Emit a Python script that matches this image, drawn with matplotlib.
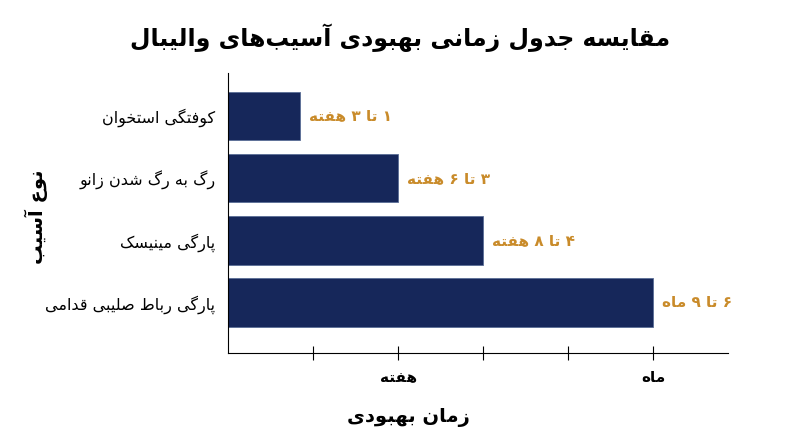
import matplotlib
matplotlib.use("Agg")
import matplotlib.pyplot as plt

# --- datos ---
injuries = ["کوفتگی استخوان", "رگ به رگ شدن زانو", "پارگی مینیسک", "پارگی رباط صلیبی قدامی"]
recovery = [0.85, 2.0, 3.0, 5.0]
ranges = ["۱ تا ۳ هفته", "۳ تا ۶ هفته", "۴ تا ۸ هفته", "۶ تا ۹ ماه"]
tick_pos = [1, 2, 3, 4, 5]
tick_labels = ["", "هفته", "", "", "ماه"]
title = "مقایسه جدول زمانی بهبودی آسیب\u200cهای والیبال"
xlabel = "زمان بهبودی"
ylabel = "نوع آسیب"

# formas de presentacion: aislada, final, inicial, media
FORMS = {
    '\u0627': ('\uFE8D', '\uFE8E', None, None),
    '\u0622': ('\uFE81', '\uFE82', None, None),
    '\u0628': ('\uFE8F', '\uFE90', '\uFE91', '\uFE92'),
    '\u067E': ('\uFB56', '\uFB57', '\uFB58', '\uFB59'),
    '\u062A': ('\uFE95', '\uFE96', '\uFE97', '\uFE98'),
    '\u062B': ('\uFE99', '\uFE9A', '\uFE9B', '\uFE9C'),
    '\u062C': ('\uFE9D', '\uFE9E', '\uFE9F', '\uFEA0'),
    '\u0686': ('\uFB7A', '\uFB7B', '\uFB7C', '\uFB7D'),
    '\u062D': ('\uFEA1', '\uFEA2', '\uFEA3', '\uFEA4'),
    '\u062E': ('\uFEA5', '\uFEA6', '\uFEA7', '\uFEA8'),
    '\u062F': ('\uFEA9', '\uFEAA', None, None),
    '\u0630': ('\uFEAB', '\uFEAC', None, None),
    '\u0631': ('\uFEAD', '\uFEAE', None, None),
    '\u0632': ('\uFEAF', '\uFEB0', None, None),
    '\u0698': ('\uFB8A', '\uFB8B', None, None),
    '\u0633': ('\uFEB1', '\uFEB2', '\uFEB3', '\uFEB4'),
    '\u0634': ('\uFEB5', '\uFEB6', '\uFEB7', '\uFEB8'),
    '\u0635': ('\uFEB9', '\uFEBA', '\uFEBB', '\uFEBC'),
    '\u0636': ('\uFEBD', '\uFEBE', '\uFEBF', '\uFEC0'),
    '\u0637': ('\uFEC1', '\uFEC2', '\uFEC3', '\uFEC4'),
    '\u0638': ('\uFEC5', '\uFEC6', '\uFEC7', '\uFEC8'),
    '\u0639': ('\uFEC9', '\uFECA', '\uFECB', '\uFECC'),
    '\u063A': ('\uFECD', '\uFECE', '\uFECF', '\uFED0'),
    '\u0641': ('\uFED1', '\uFED2', '\uFED3', '\uFED4'),
    '\u0642': ('\uFED5', '\uFED6', '\uFED7', '\uFED8'),
    '\u06A9': ('\uFB8E', '\uFB8F', '\uFB90', '\uFB91'),
    '\u06AF': ('\uFB92', '\uFB93', '\uFB94', '\uFB95'),
    '\u0644': ('\uFEDD', '\uFEDE', '\uFEDF', '\uFEE0'),
    '\u0645': ('\uFEE1', '\uFEE2', '\uFEE3', '\uFEE4'),
    '\u0646': ('\uFEE5', '\uFEE6', '\uFEE7', '\uFEE8'),
    '\u0648': ('\uFEED', '\uFEEE', None, None),
    '\u0647': ('\uFEE9', '\uFEEA', '\uFEEB', '\uFEEC'),
    '\u06CC': ('\uFBFC', '\uFBFD', '\uFBFE', '\uFBFF'),
}


def fa(text):
    # une las letras y da la vuelta (matplotlib no hace RTL)
    out = []
    for i, c in enumerate(text):
        if c not in FORMS:
            if c != '\u200c':
                out.append(c)
            continue
        prev = text[i - 1] if i > 0 else None
        nxt = text[i + 1] if i + 1 < len(text) else None
        jp = prev in FORMS and FORMS[prev][2] is not None
        jn = nxt in FORMS and FORMS[c][2] is not None
        iso, fin, ini, med = FORMS[c]
        if jp and jn:
            out.append(med)
        elif jp:
            out.append(fin)
        elif jn:
            out.append(ini)
        else:
            out.append(iso)
    return ''.join(reversed(out))


plt.rcParams['font.family'] = ['DejaVu Sans']

fig = plt.figure(figsize=(8, 4.47), dpi=100)
ax = fig.add_axes([0.285, 0.2103, 0.625, 0.6264])

ypos = [3, 2, 1, 0]
ax.barh(ypos, recovery, height=0.78, color='#16275a', edgecolor='#5a6d96', linewidth=0.6)

for y, v, r in zip(ypos, recovery, ranges):
    ax.text(v + 0.1, y, fa(r), ha='left', va='center', fontsize=11,
            fontweight='bold', color='#c98b2a')

ax.set_xlim(0, 5.88)
ax.set_ylim(-0.81, 3.69)
ax.set_yticks(ypos)
ax.set_yticklabels([fa(s) for s in injuries], fontsize=11.5)
ax.tick_params(axis='y', length=0, pad=9)
ax.set_xticks(tick_pos)
ax.set_xticklabels([fa(s) for s in tick_labels], fontsize=11, fontweight='bold')
ax.tick_params(axis='x', direction='inout', length=10, width=0.8, pad=7)

for s in ['top', 'right']:
    ax.spines[s].set_visible(False)
ax.spines['left'].set_linewidth(0.8)
ax.spines['bottom'].set_linewidth(0.8)

ax.set_xlabel(fa(xlabel), fontsize=14, fontweight='bold')
ax.xaxis.set_label_coords(0.36, -0.195)
ax.set_ylabel(fa(ylabel), fontsize=14, fontweight='bold')
ax.yaxis.set_label_coords(-0.36, 0.485)
fig.text(0.5, 0.915, fa(title), ha='center', va='center', fontsize=17, fontweight='bold')

fig.savefig("out.png", dpi=100)
